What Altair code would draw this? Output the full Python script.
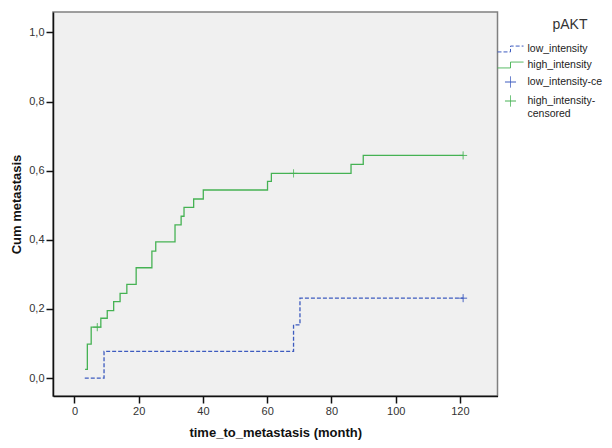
import altair as alt
import pandas as pd

# ---- data ----
groups = ["low_intensity", "high_intensity", "low_intensity-censored", "high_intensity-censored"]
colors = ["#3D5BBF", "#45B253", "#3D5BBF", "#45B253"]

high_t = [3.3, 4.0, 5.2, 8.2, 10.2, 12.2, 14.2, 16.3, 19.2, 24.1, 25.3, 31.3, 33.2, 34.1, 37.1, 40.1, 60.1, 61.3, 86.1, 89.9, 121.0]
high_v = [0.025, 0.098, 0.147, 0.173, 0.195, 0.221, 0.245, 0.271, 0.319, 0.367, 0.394, 0.443, 0.468, 0.494, 0.518, 0.544, 0.569, 0.592, 0.618, 0.644, 0.644]

low_t = [3.2, 9.2, 68.2, 70.2, 121.0]
low_v = [0.0, 0.077, 0.154, 0.231, 0.231]

high_cens_t = [7.1, 68.2, 121.0]
high_cens_v = [0.147, 0.592, 0.644]
low_cens_t = [121.0]
low_cens_v = [0.231]

x_ticks = [0, 20, 40, 60, 80, 100, 120]
y_ticks = [0.0, 0.2, 0.4, 0.6, 0.8, 1.0]

# ---- tables ----
lines = pd.concat([
    pd.DataFrame({"t": low_t, "v": low_v, "g": "low_intensity", "o": range(len(low_t))}),
    pd.DataFrame({"t": high_t, "v": high_v, "g": "high_intensity", "o": range(len(high_t))}),
])
cens = pd.concat([
    pd.DataFrame({"t": low_cens_t, "v": low_cens_v, "g": "low_intensity-censored"}),
    pd.DataFrame({"t": high_cens_t, "v": high_cens_v, "g": "high_intensity-censored"}),
])

step_path = "M-2,0.45H0V-0.45H2"
plus_path = "M-0.85,0H0.85M0,-0.85V0.85"

x_enc = alt.X("t:Q", scale=alt.Scale(domain=[-6.69, 131.7], nice=False, zero=False),
              axis=alt.Axis(values=x_ticks, title="time_to_metastasis (month)", grid=False))
y_enc = alt.Y("v:Q", scale=alt.Scale(domain=[-0.052, 1.059], nice=False, zero=False),
              axis=alt.Axis(values=y_ticks, title="Cum metastasis", grid=False,
                            labelExpr="replace(format(datum.value, '.1f'), '.', ',')"))

legend = alt.Legend(
    title="pAKT", orient="none", legendX=450.5, legendY=6,
    symbolSize=169, symbolStrokeWidth=1, labelOffset=10,
    titleAnchor="middle", titleAlign="left", titleFontSize=14, titleFontWeight="normal",
    titleFont="Liberation Sans", titleColor="#333333", titlePadding=10,
    labelFont="Liberation Sans", labelFontSize=10.5, labelColor="#222222",
    rowPadding=3, labelLimit=200,
    labelExpr="datum.label == 'low_intensity-censored' ? 'low_intensity-ce' : "
              "datum.label == 'high_intensity-censored' ? ['high_intensity-', 'censored'] : datum.label",
)

color_scale = alt.Scale(domain=groups, range=colors)
shape_scale = alt.Scale(domain=groups, range=[step_path, step_path, plus_path, plus_path])
dash_scale = alt.Scale(domain=groups, range=[[4, 2], [1, 0], [1, 0], [1, 0]])

line_layer = alt.Chart(lines).mark_line(interpolate="step-after", strokeWidth=1.3).encode(
    x=x_enc, y=y_enc,
    color=alt.Color("g:N", scale=color_scale, legend=legend),
    strokeDash=alt.StrokeDash("g:N", scale=dash_scale, legend=legend),
    detail="g:N",
    order="o:Q",
)

point_layer = alt.Chart(cens).mark_point(filled=False, strokeWidth=1, size=88, opacity=1).encode(
    x="t:Q", y="v:Q",
    color=alt.Color("g:N", scale=color_scale, legend=legend),
    shape=alt.Shape("g:N", scale=shape_scale, legend=legend),
    strokeDash=alt.StrokeDash("g:N", scale=dash_scale, legend=legend),
)

chart = alt.layer(line_layer, point_layer).properties(
    width=444.5, height=384,
    autosize=alt.AutoSizeParams(type="none"),
    padding={"left": 45, "top": 4, "right": 106, "bottom": 44},
).configure_view(
    fill="#F0F0F0", stroke="#808080", strokeWidth=1.5,
).configure_axis(
    domainColor="#111111", domainWidth=1.5,
    tickColor="#111111", tickSize=7, tickWidth=1.5,
    labelFont="Liberation Sans", labelFontSize=11, labelColor="#333333",
    titleFont="Liberation Sans", titleFontSize=13, titleFontWeight="bold", titleColor="#111111",
).configure_axisY(
    labelPadding=2, titlePadding=5,
).configure_axisX(
    labelPadding=2, titlePadding=10,
)

chart.save("out.html", embed_options={"renderer": "svg", "actions": False})
